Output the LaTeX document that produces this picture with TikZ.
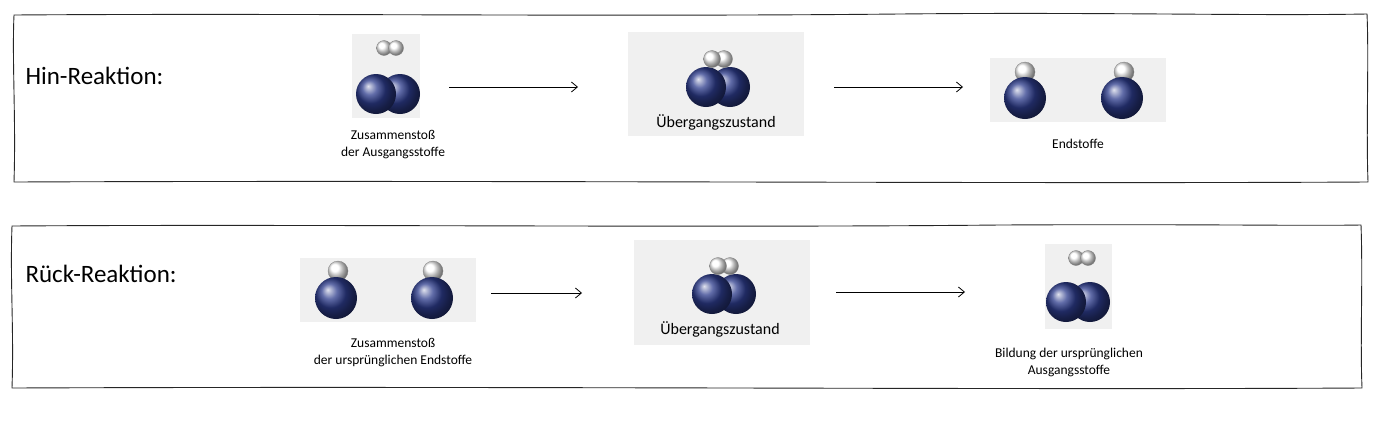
\documentclass[tikz,border=0pt]{standalone}
\usetikzlibrary{arrows.meta}
\usepackage{fontspec}
\setmainfont{Carlito}
\begin{document}
\begin{tikzpicture}[x=1pt,y=-1pt,
  frame/.style={line width=0.9pt,draw=black!85},
  bg/.style={fill=black!6,draw=none},
  Nat/.style={shading=ball,ball color={rgb,255:red,45;green,60;blue,140}},
  Hat/.style={shading=ball,ball color=white,draw=black!50,line width=0.3pt},
  lab/.style={font=\fontsize{13.5}{17}\selectfont,align=center},
  lab2/.style={font=\fontsize{16}{18}\selectfont},
  title/.style={font=\fontsize{25}{28}\selectfont,anchor=west},
  arr/.style={-{Straight Barb[length=6pt,width=10pt]},line width=0.8pt}]
\useasboundingbox (0,0) rectangle (1380,426);
% frames
\draw[frame] (14,15) .. controls (300,13) and (600,17) .. (900,14) .. controls (1100,12) and (1250,16) .. (1367,14)
  .. controls (1369,60) and (1366,130) .. (1368,182) .. controls (1000,184) and (500,180) .. (14,182)
  .. controls (16,120) and (12,60) .. (14,15) -- cycle;
\draw[frame] (12,226) .. controls (300,224) and (700,228) .. (1000,225) .. controls (1200,224) and (1300,226) .. (1361,225)
  .. controls (1363,280) and (1360,340) .. (1362,388) .. controls (1000,390) and (500,386) .. (12,388)
  .. controls (14,330) and (10,280) .. (12,226) -- cycle;
\node[title] (t1) at (22,76) {Hin-Reaktion:};
\node[title] (t2) at (22,274) {Rück-Reaktion:};
% top row
\node[bg,minimum width=68,minimum height=84] (a1) at (386,76) {};
\shade[Hat] (384,48) circle (7.5); \shade[Hat] (396,48) circle (7.5);
\shade[Nat] (400,94) circle (20); \shade[Nat] (376,94) circle (20);
\node[lab] (la1) at (393,145) {Zusammenstoß\\der Ausgangsstoffe};
\node[bg,minimum width=176,minimum height=104] (a2) at (716,84) {};
\shade[Nat] (730,87) circle (20); \shade[Nat] (706,87) circle (20);
\shade[Hat] (724,59) circle (8.5); \shade[Hat] (712,59) circle (8.5);
\node[lab2] (la2) at (716,122) {Übergangszustand};
\node[bg,minimum width=176,minimum height=64] (a3) at (1078,90) {};
\shade[Hat] (1025,72) circle (10); \shade[Nat] (1025,98) circle (21);
\shade[Hat] (1124,72) circle (10); \shade[Nat] (1122,98) circle (21);
\node[lab] (la3) at (1078,144) {Endstoffe};
\coordinate (p1) at (449,87); \coordinate (p2) at (578,87);
\coordinate (p3) at (834,87); \coordinate (p4) at (963,87);
\draw[arr] (p1) -- (p2); \draw[arr] (p3) -- (p4);
% bottom row
\node[bg,minimum width=176,minimum height=64] (b1) at (388,290) {};
\shade[Hat] (338,271) circle (10); \shade[Nat] (336,298) circle (21);
\shade[Hat] (433,271) circle (10); \shade[Nat] (432,298) circle (21);
\node[lab] (lb1) at (393,353) {Zusammenstoß\\der ursprünglichen Endstoffe};
\node[bg,minimum width=176,minimum height=105] (b2) at (722,292) {};
\shade[Nat] (736,294) circle (20); \shade[Nat] (712,294) circle (20);
\shade[Hat] (730,266) circle (8.5); \shade[Hat] (718,266) circle (8.5);
\node[lab2] (lb2) at (720,329) {Übergangszustand};
\node[bg,minimum width=67,minimum height=85] (b3) at (1078,286) {};
\shade[Hat] (1076,258) circle (7.5); \shade[Hat] (1088,258) circle (7.5);
\shade[Nat] (1090,302) circle (20); \shade[Nat] (1066,302) circle (20);
\node[lab] (lb3) at (1069,362) {Bildung der ursprünglichen\\Ausgangsstoffe};
\coordinate (q1) at (491,293); \coordinate (q2) at (582,293);
\coordinate (q3) at (836,292); \coordinate (q4) at (965,292);
\draw[arr] (q1) -- (q2); \draw[arr] (q3) -- (q4);
\end{tikzpicture}
\end{document}
